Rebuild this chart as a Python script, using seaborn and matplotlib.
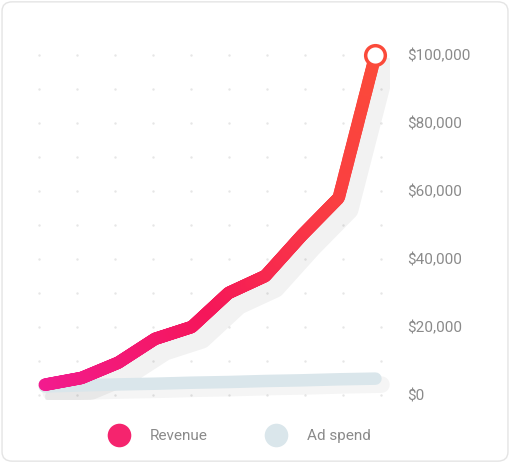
import numpy as np
import pandas as pd
import seaborn as sns
import matplotlib.pyplot as plt
import matplotlib.transforms as mtrans
from matplotlib.collections import LineCollection
from matplotlib.colors import LinearSegmentedColormap
from matplotlib.patches import FancyBboxPatch
from matplotlib.lines import Line2D

periods = list(range(10))
revenue = [3000, 5000, 9500, 16500, 20000, 30000, 35000, 47000, 58000, 100000]
ad_spend = [2500, 2800, 3100, 3300, 3600, 3800, 4100, 4300, 4600, 4800]
yticks = [0, 20000, 40000, 60000, 80000, 100000]
ytick_labels = ["$0", "$20,000", "$40,000", "$60,000", "$80,000", "$100,000"]

sns.set_theme(style="white")
plt.rcParams['font.family'] = ['Roboto', 'DejaVu Sans']

fig = plt.figure(figsize=(5.1, 4.63), dpi=100)
border = FancyBboxPatch((0.004, 0.004), 0.992, 0.992, boxstyle="round,pad=0,rounding_size=0.02",
                        transform=fig.transFigure, fc="white", ec="#e4e4e4", lw=1, zorder=-10)
fig.patches.append(border)
ax = fig.add_axes([0.059, 0.136, 0.706, 0.778])
ax.set_facecolor("none")
ax.set_xlim(-0.4, 9.4)
ax.set_ylim(-1500, 104500)

# dot grid
gx = np.linspace(-0.15, 9.15, 10)
gy = np.arange(0, 105000, 10000)
GX, GY = np.meshgrid(gx, gy)
ax.scatter(GX.ravel(), GY.ravel(), s=3, color="#e6e6e6", zorder=0, linewidths=0)

df = pd.DataFrame({"p": periods, "rev": revenue, "ad": ad_spend})
sh1 = ax.transData + mtrans.ScaledTranslation(0.1, -0.12, fig.dpi_scale_trans)
sh2 = ax.transData + mtrans.ScaledTranslation(0.06, -0.06, fig.dpi_scale_trans)
ax.plot(periods, revenue, color="black", alpha=0.05, lw=14, solid_capstyle="round",
        solid_joinstyle="round", zorder=1, transform=sh1)
ax.plot(periods, ad_spend, color="black", alpha=0.04, lw=12, solid_capstyle="round", zorder=1, transform=sh2)
sns.lineplot(data=df, x="p", y="ad", ax=ax, color="#dae6eb", lw=9, solid_capstyle="round", zorder=2)

# gradient revenue line
fine_x = np.linspace(periods[0], periods[-1], 400)
fine_y = np.interp(fine_x, periods, revenue)
pts = np.column_stack([fine_x, fine_y]).reshape(-1, 1, 2)
segs = np.concatenate([pts[:-1], pts[1:]], axis=1)
cmap = LinearSegmentedColormap.from_list("rg", ["#f21b8f", "#f5165a", "#fb4a3a"])
lc = LineCollection(segs, cmap=cmap, linewidths=9, capstyle="round", joinstyle="round", zorder=3)
lc.set_array(np.linspace(0, 1, len(segs)))
ax.add_collection(lc)
ax.scatter([periods[-1]], [revenue[-1]], s=200, facecolor="white", edgecolor="#fb4a3a", linewidths=2.5, zorder=4)

ax.yaxis.tick_right()
ax.set_yticks(yticks)
ax.set_yticklabels(ytick_labels, color="#8a8a8a", fontsize=11)
ax.tick_params(axis="y", length=0, pad=12)
ax.set_xticks([])
ax.set_xlabel(""); ax.set_ylabel("")
for s in ax.spines.values():
    s.set_visible(False)

handles = [Line2D([], [], marker="o", ls="", ms=17, mfc="#f5246e", mec="none"),
           Line2D([], [], marker="o", ls="", ms=17, mfc="#dae6eb", mec="none")]
fig.legend(handles, ["Revenue", "Ad spend"], loc="center", bbox_to_anchor=(0.465, 0.058), ncol=2,
           frameon=False, fontsize=11, labelcolor="#8a8a8a", columnspacing=3.5, handletextpad=1.0)

fig.savefig("out.png", dpi=100)
